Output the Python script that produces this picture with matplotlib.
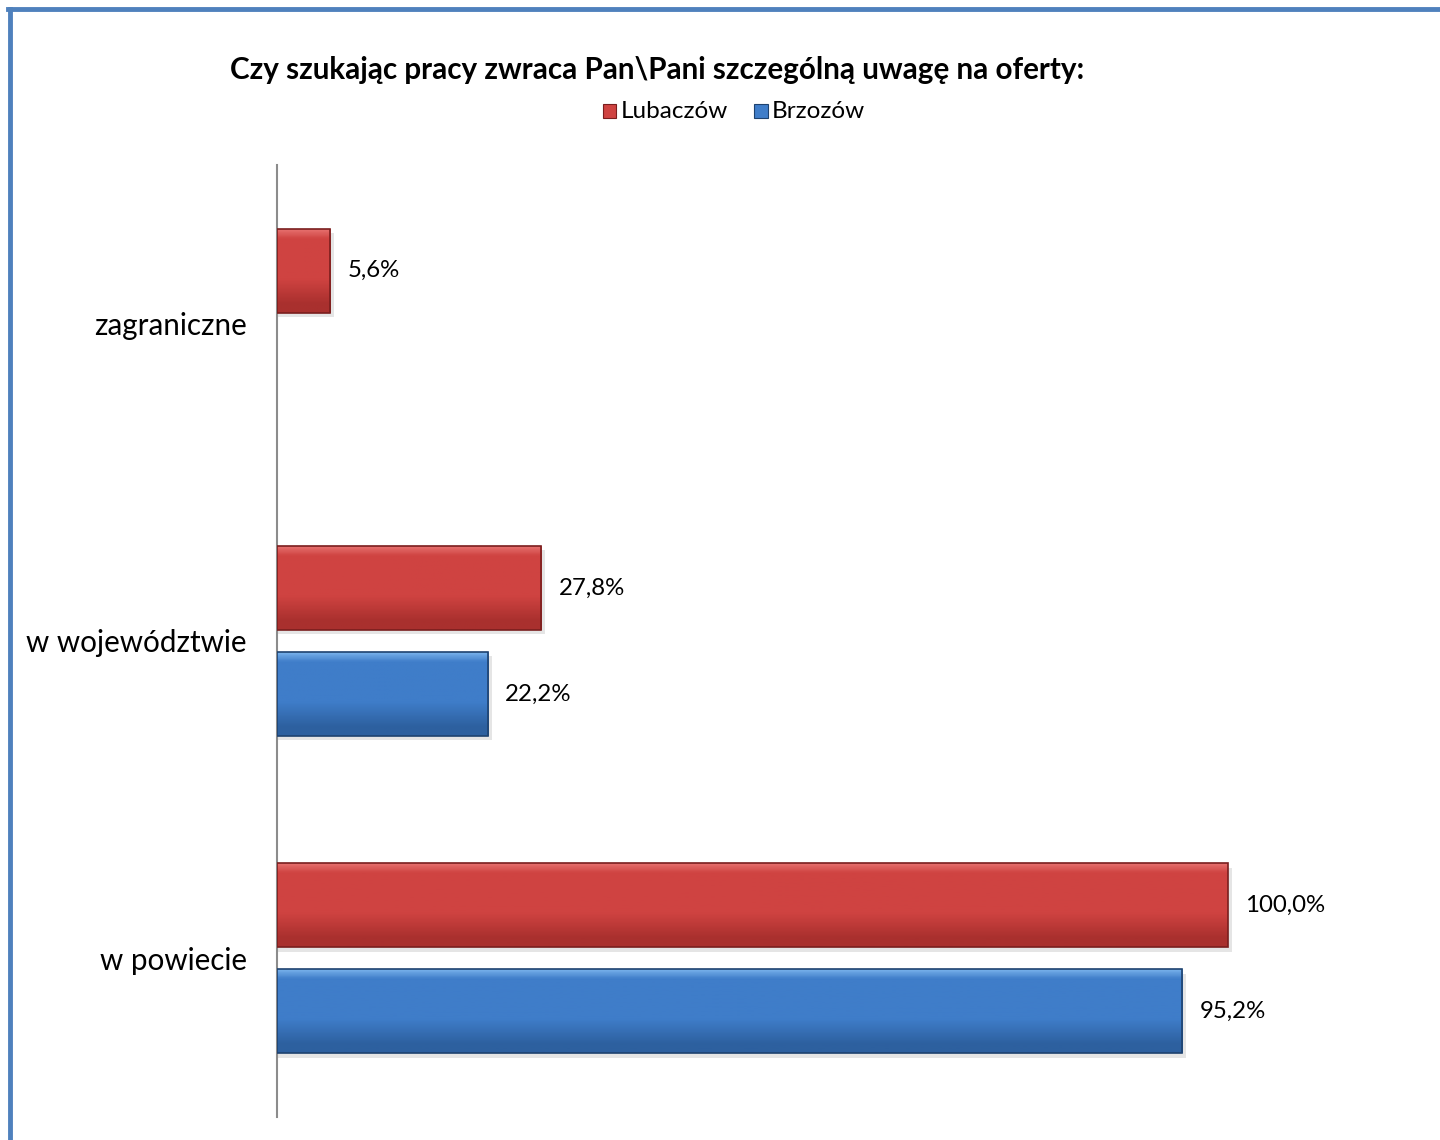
import numpy as np
import matplotlib
matplotlib.use("Agg")
from matplotlib import pyplot as plt
from matplotlib.lines import Line2D
from matplotlib.colors import LinearSegmentedColormap

plt.rcParams['font.family'] = ['Lato', 'DejaVu Sans']

categories = ['zagraniczne', 'w województwie', 'w powiecie']
lubaczow = [5.6, 27.8, 100.0]
brzozow = [np.nan, 22.2, 95.2]
series_names = ['Lubaczów', 'Brzozów']
title = 'Czy szukając pracy zwraca Pan\\Pani szczególną uwagę na oferty:'

styles = {
	'Lubaczów': dict(face='#CF4341', light='#E87472', dark='#A9302E', edge='#7A1E1E'),
	'Brzozów': dict(face='#3F7DC9', light='#7DB6EE', dark='#2D609F', edge='#1E426F'),
}

fig = plt.figure(figsize=(14.4, 11.4), dpi=100)
ax = fig.add_axes([0.1924, 0.0202, 0.7924, 0.8351])

y = np.arange(len(categories))
h = 0.265
offsets = [-0.167, 0.167]

grad = np.linspace(0, 1, 64).reshape(-1, 1)


def bevel_bars(ax, ypos, vals, st):
	vals = np.asarray(vals, dtype=float)
	ok = ~np.isnan(vals)
	ypos, vals = ypos[ok], vals[ok]
	cmap = LinearSegmentedColormap.from_list('b', [(0, st['light']), (0.12, st['face']),
												   (0.6, st['face']), (0.9, st['dark']), (1, st['dark'])])
	# soft shadow
	ax.barh(ypos + 0.014, vals + 0.4, height=h, left=0, color='#000000', alpha=0.10, zorder=1)
	bars = ax.barh(ypos, vals, height=h, color=st['face'], edgecolor='none', zorder=2)
	for b, yy, v in zip(bars, ypos, vals):
		im = ax.imshow(grad, cmap=cmap, aspect='auto', extent=(0, v, yy + h / 2, yy - h / 2), zorder=3)
		im.set_clip_path(b)
		ax.add_patch(plt.Rectangle((0, yy - h / 2), v, h, fill=False, edgecolor=st['edge'], linewidth=1.2, zorder=4))
		ax.text(v + 1.8, yy, f'{v:.1f}%'.replace('.', ','), va='center', ha='left', fontsize=17.3, color='black')


bevel_bars(ax, y + offsets[0], lubaczow, styles['Lubaczów'])
bevel_bars(ax, y + offsets[1], brzozow, styles['Brzozów'])

ax.set_xlim(0, 120)
ax.set_ylim(len(categories) - 0.5, -0.5)
ax.set_yticks(y)
ax.set_yticklabels(categories, fontsize=21.3)
ax.tick_params(axis='y', length=0, pad=22)
ax.set_xticks([])
for s in ['top', 'right', 'bottom']:
	ax.spines[s].set_visible(False)
ax.spines['left'].set_color('#8C8C8C')
ax.spines['left'].set_linewidth(1.5)

fig.text(0.456, 0.939, title, ha='center', va='center', fontsize=21.3, fontweight='bold')

# legend
lx = [0.4185, 0.5235]
for name, x0 in zip(series_names, lx):
	st = styles[name]
	fig.patches.append(plt.Rectangle((x0, 0.8965), 0.0095, 0.012, transform=fig.transFigure,
									facecolor=st['face'], edgecolor=st['edge'], linewidth=0.8))
	fig.text(x0 + 0.0125, 0.9025, name, ha='left', va='center', fontsize=17.5)

# blue frame on left and top
fig.add_artist(Line2D([0.0069, 0.0069], [0, 0.9925], color='#4F81BD', linewidth=3.5, transform=fig.transFigure))
fig.add_artist(Line2D([0.0055, 1.0], [0.9925, 0.9925], color='#4F81BD', linewidth=3.5, transform=fig.transFigure))

fig.savefig('out.png', dpi=100)
